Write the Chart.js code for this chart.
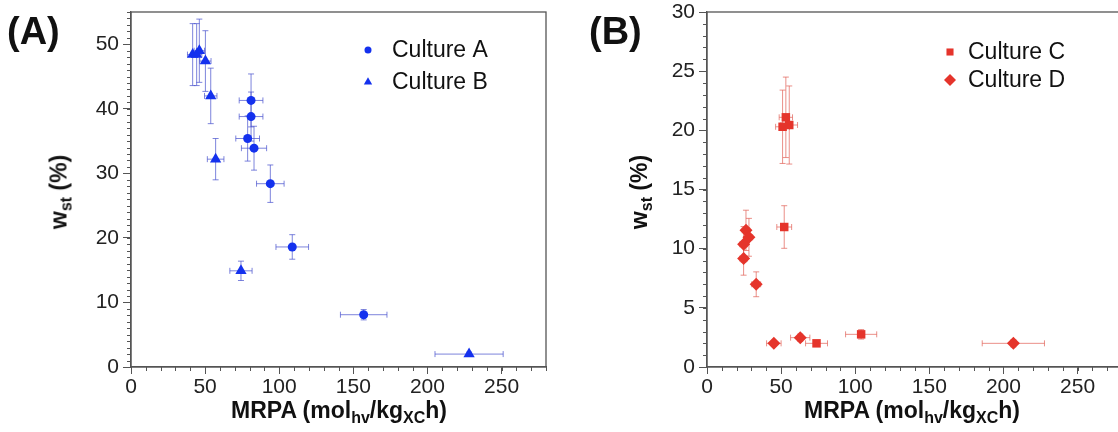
<!DOCTYPE html>
<html>
<head>
<meta charset="utf-8">
<title>MRPA vs starch content</title>
<script src="https://cdn.jsdelivr.net/npm/chart.js@4.4.1/dist/chart.umd.min.js"></script>
<style>
  html, body { margin: 0; padding: 0; background: #fff; }
  body { width: 1118px; height: 432px; overflow: hidden; position: relative; font-family: 'Liberation Sans', Arial, sans-serif; color: #111; }
  canvas { position: absolute; top: 0; }
  #chart-a { left: 0; }
  #chart-b { left: 580px; }
  .panel-tag { position: absolute; font-weight: bold; font-size: 38px; line-height: 1; }
  .ytitle { position: absolute; font-weight: bold; font-size: 23px; white-space: nowrap; transform: translate(-50%, -50%) rotate(-90deg); }
  .xtitle { position: absolute; font-weight: bold; font-size: 23px; white-space: nowrap; transform: translate(-50%, -50%); }
  sub { font-size: 16px; vertical-align: -5px; line-height: 0; }
</style>
</head>
<body>
<canvas id="chart-a" width="560" height="432"></canvas>
<canvas id="chart-b" width="560" height="432"></canvas>

<div class="panel-tag" style="left:7px; top:12px;">(A)</div>
<div class="panel-tag" style="left:589px; top:12px;">(B)</div>
<div class="ytitle" style="left:59px; top:192px;">w<sub>st</sub> (%)</div>
<div class="ytitle" style="left:639px; top:192px;">w<sub>st</sub> (%)</div>
<div class="xtitle" style="left:339px; top:410px;">MRPA (mol<sub>hv</sub>/kg<sub>XC</sub>h)</div>
<div class="xtitle" style="left:912px; top:410px;">MRPA (mol<sub>hv</sub>/kg<sub>XC</sub>h)</div>

<script>
// Panel A
const cultureA_x    = [81.0, 81.0, 78.7, 83.0, 94.0, 108.8, 157.0];
const cultureA_y    = [41.3, 38.8, 35.4, 33.9, 28.4, 18.6, 8.1];
const cultureA_xErr = [8, 8, 8, 8.5, 9.3, 11, 15.7];
const cultureA_yErr = [4.1, 3.8, 3.5, 3.4, 2.9, 1.9, 0.8];

const cultureB_x    = [41.6, 44.3, 46.1, 50.2, 53.8, 57.1, 74.2, 228.1];
const cultureB_y    = [48.4, 48.4, 49.0, 47.4, 42.0, 32.2, 14.9, 2.0];
const cultureB_xErr = [3.5, 3.5, 3.5, 3.8, 4.2, 5.6, 7.5, 23];
const cultureB_yErr = [4.8, 4.8, 4.9, 4.7, 4.3, 3.2, 1.5, 0.3];

// Panel B
const cultureC_x    = [51.0, 53.2, 55.5, 52.1, 73.9, 104.0];
const cultureC_y    = [20.3, 21.1, 20.45, 11.83, 2.0, 2.76];
const cultureC_xErr = [4.7, 4.5, 5.6, 5, 7.4, 10.5];
const cultureC_yErr = [3.1, 3.4, 3.3, 1.8, 0.2, 0.4];

const cultureD_x    = [26.3, 28.3, 24.7, 24.7, 33.2, 45.1, 62.9, 206.7];
const cultureD_y    = [11.55, 10.96, 10.37, 9.16, 6.99, 2.0, 2.48, 2.0];
const cultureD_xErr = [2.5, 2.5, 2.5, 2.5, 3, 4.9, 6.5, 21];
const cultureD_yErr = [1.7, 1.6, 1.5, 1.4, 1.05, 0.2, 0.3, 0.3];

const xTicks  = [0, 50, 100, 150, 200, 250];
const yTicksA = [0, 10, 20, 30, 40, 50];
const yTicksB = [0, 5, 10, 15, 20, 25, 30];

const BLUE = '#1431ee';
const BLUE_ERR = 'rgba(70, 80, 205, 0.7)';
const RED = '#e5342b';
const RED_ERR = 'rgba(225, 95, 85, 0.7)';
const AXIS = '#555';
const FONT = "'Liberation Sans', Arial, sans-serif";

function points(xs, ys, xe, ye) {
  return xs.map((x, i) => ({ x: x, y: ys[i], xErr: xe[i], yErr: ye[i] }));
}

// error bars, frame box, minor ticks and inner legend
const decorations = {
  id: 'decorations',
  beforeDatasetsDraw(chart) {
    const ctx = chart.ctx;
    const xs = chart.scales.x, ys = chart.scales.y;
    ctx.save();
    ctx.lineWidth = 1;
    chart.data.datasets.forEach(ds => {
      ctx.strokeStyle = ds.errColor;
      ds.data.forEach(p => {
        const cx = xs.getPixelForValue(p.x), cy = ys.getPixelForValue(p.y);
        const x0 = xs.getPixelForValue(p.x - p.xErr), x1 = xs.getPixelForValue(p.x + p.xErr);
        const y0 = ys.getPixelForValue(p.y - p.yErr), y1 = ys.getPixelForValue(p.y + p.yErr);
        const cap = 3;
        ctx.beginPath();
        ctx.moveTo(x0, cy); ctx.lineTo(x1, cy);
        ctx.moveTo(x0, cy - cap); ctx.lineTo(x0, cy + cap);
        ctx.moveTo(x1, cy - cap); ctx.lineTo(x1, cy + cap);
        ctx.moveTo(cx, y0); ctx.lineTo(cx, y1);
        ctx.moveTo(cx - cap, y0); ctx.lineTo(cx + cap, y0);
        ctx.moveTo(cx - cap, y1); ctx.lineTo(cx + cap, y1);
        ctx.stroke();
      });
    });
    ctx.restore();
  },
  afterDraw(chart, args, opts) {
    const ctx = chart.ctx;
    const a = chart.chartArea;
    const xs = chart.scales.x, ys = chart.scales.y;
    ctx.save();
    ctx.strokeStyle = AXIS;
    ctx.lineWidth = 1.3;
    ctx.strokeRect(a.left, a.top, a.right - a.left, a.bottom - a.top);

    // minor ticks
    ctx.lineWidth = 1;
    ctx.beginPath();
    for (let v = 0; v <= xs.max; v += 10) {
      const px = Math.round(xs.getPixelForValue(v)) + 0.5;
      ctx.moveTo(px, a.bottom); ctx.lineTo(px, a.bottom + 4);
    }
    for (let v = 0; v <= ys.max; v += 1) {
      const py = Math.round(ys.getPixelForValue(v)) + 0.5;
      ctx.moveTo(a.left - 4, py); ctx.lineTo(a.left, py);
    }
    ctx.stroke();

    // legend
    ctx.font = '23px ' + FONT;
    ctx.textBaseline = 'middle';
    chart.data.datasets.forEach((ds, i) => {
      const y = opts.top + i * opts.gap;
      ctx.fillStyle = ds.backgroundColor;
      Chart.helpers.drawPoint(ctx, { pointStyle: ds.pointStyle, radius: ds.legendRadius, rotation: 0 }, opts.markerX, y);
      ctx.fillStyle = '#111';
      ctx.fillText(ds.label, opts.textX, y + 1);
    });
    ctx.restore();
  }
};

function noScalePadding(s) {
  s.paddingTop = 0; s.paddingBottom = 0; s.paddingLeft = 0; s.paddingRight = 0;
}

function scatterOptions(yMax, yTicks, yAxisWidth, rightPad, legend) {
  return {
    responsive: false,
    animation: false,
    layout: { padding: { top: 12, right: rightPad, left: 0, bottom: 0 } },
    plugins: {
      legend: { display: false },
      tooltip: { enabled: false },
      decorations: legend
    },
    scales: {
      x: {
        type: 'linear', min: 0, max: 280,
        afterBuildTicks: s => { s.ticks = xTicks.map(v => ({ value: v })); },
        ticks: { color: '#222', font: { family: FONT, size: 21 }, padding: 1, maxRotation: 0 },
        grid: { drawOnChartArea: false, tickLength: 7, color: AXIS },
        border: { color: AXIS, width: 1.3 },
        afterFit: s => { s.height = 65; noScalePadding(s); }
      },
      y: {
        type: 'linear', min: 0, max: yMax,
        afterBuildTicks: s => { s.ticks = yTicks.map(v => ({ value: v })); },
        ticks: { color: '#222', font: { family: FONT, size: 21 }, padding: 4 },
        grid: { drawOnChartArea: false, tickLength: 8, color: AXIS },
        border: { color: AXIS, width: 1.3 },
        afterFit: s => { s.width = yAxisWidth; noScalePadding(s); }
      }
    }
  };
}

new Chart(document.getElementById('chart-a'), {
  type: 'scatter',
  data: {
    datasets: [
      { label: 'Culture A', data: points(cultureA_x, cultureA_y, cultureA_xErr, cultureA_yErr),
        pointStyle: 'circle', pointRadius: 4.5, legendRadius: 3.5,
        backgroundColor: BLUE, borderColor: BLUE, borderWidth: 0, errColor: BLUE_ERR },
      { label: 'Culture B', data: points(cultureB_x, cultureB_y, cultureB_xErr, cultureB_yErr),
        pointStyle: 'triangle', pointRadius: 6.5, legendRadius: 4.8,
        backgroundColor: BLUE, borderColor: BLUE, borderWidth: 0, errColor: BLUE_ERR }
    ]
  },
  options: scatterOptions(55, yTicksA, 131, 14, { markerX: 368, textX: 392, top: 50, gap: 32 }),
  plugins: [decorations]
});

new Chart(document.getElementById('chart-b'), {
  type: 'scatter',
  data: {
    datasets: [
      { label: 'Culture C', data: points(cultureC_x, cultureC_y, cultureC_xErr, cultureC_yErr),
        pointStyle: 'rect', pointRadius: 6, legendRadius: 5,
        backgroundColor: RED, borderColor: RED, borderWidth: 0, errColor: RED_ERR },
      { label: 'Culture D', data: points(cultureD_x, cultureD_y, cultureD_xErr, cultureD_yErr),
        pointStyle: 'rectRot', pointRadius: 6.5, legendRadius: 6,
        backgroundColor: RED, borderColor: RED, borderWidth: 0, errColor: RED_ERR }
    ]
  },
  options: scatterOptions(30, yTicksB, 127, 18, { markerX: 370, textX: 388, top: 52, gap: 28 }),
  plugins: [decorations]
});
</script>
</body>
</html>
